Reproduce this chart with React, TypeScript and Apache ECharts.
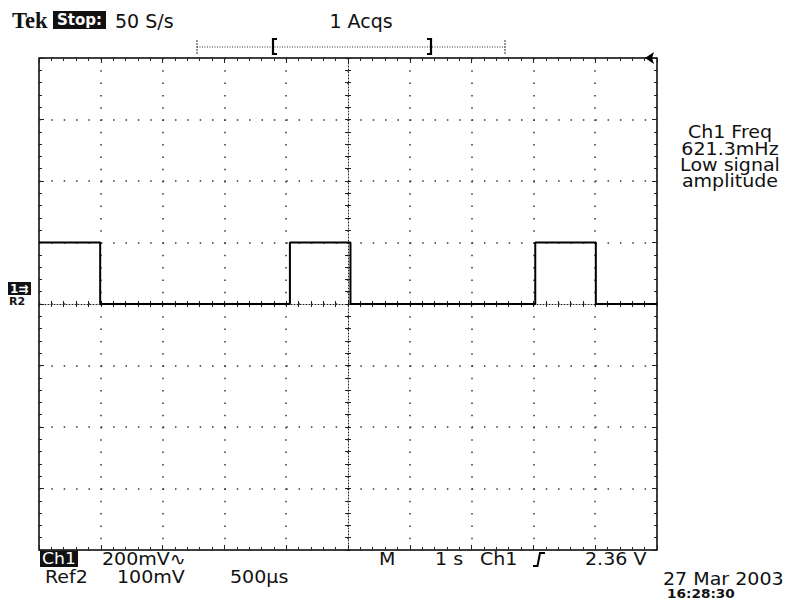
import React, { useEffect, useRef } from "react";
import * as echarts from "echarts";

// Ch1 trace: time (s, 1 s/div, centred) and level (V, 200 mV/div)
const timeS = [-5, -4.01, -4.01, -0.94, -0.94, 0.04, 0.04, 3.03, 3.03, 4.01, 4.01, 5];
const ch1V = [0.2, 0.2, 0, 0, 0.2, 0.2, 0, 0, 0.2, 0.2, 0, 0];

const xRange = [-5, 5];
const yRange = [-0.8, 0.8];
const xStep = 1;
const yStep = 0.2;

const measureLines = ["Ch1 Freq", "621.3mHz", "Low signal", "amplitude"];
const headerTexts = { brand: "Tek", state: "Stop:", rate: "50 S/s", acqs: "1 Acqs" };
const footerTexts = {
  ch: "Ch1",
  chScale: "200mV\u223F",
  ref: "Ref2",
  refScale: "100mV",
  refTime: "500\u00B5s",
  m: "M",
  timeBase: "1 s",
  trigSrc: "Ch1",
  trigLevel: "2.36 V",
  date: "27 Mar 2003",
  time: "16:28:30",
};

const FONT = '"DejaVu Sans"';
const INK = "#111";

function txt(text: string, x: number, y: number, o: any = {}) {
  return {
    type: "text",
    x,
    y,
    scaleX: o.scaleX ?? 1.12,
    z: 100,
    style: {
      text,
      fill: o.fill ?? INK,
      fontSize: o.size ?? 17,
      fontFamily: o.family ?? FONT,
      fontWeight: o.weight ?? "normal",
      align: o.align ?? "left",
      verticalAlign: "middle",
    },
  };
}

export default function App() {
  const ref = useRef<HTMLDivElement>(null);
  useEffect(() => {
    if (!ref.current) return;
    const chart = echarts.init(ref.current, undefined, { renderer: "svg" });
    const tickColor = "#222";
    const baseX = {
      type: "value",
      min: xRange[0],
      max: xRange[1],
      interval: xStep,
      axisLabel: { show: false },
      minorSplitLine: { show: false },
    };
    const baseY = {
      type: "value",
      min: yRange[0],
      max: yRange[1],
      interval: yStep,
      axisLabel: { show: false },
      minorSplitLine: { show: false },
    };
    const option: any = {
      animation: false,
      backgroundColor: "#fff",
      grid: {
        left: 39,
        right: 135,
        top: 58,
        bottom: 59,
        show: true,
        borderColor: "#000",
        borderWidth: 1.5,
        backgroundColor: "transparent",
      },
      xAxis: [
        {
          ...baseX,
          position: "bottom",
          axisLine: { show: true, onZero: true, onZeroAxisIndex: 0, lineStyle: { color: tickColor, width: 1, type: [1, 2] } },
          axisTick: { show: true, inside: true, length: 3, lineStyle: { color: tickColor } },
          minorTick: { show: true, splitNumber: 5, length: 3, lineStyle: { color: tickColor } },
          splitLine: { show: true, lineStyle: { color: "#333", width: 1.5, type: [1.5, 10.8] } },
        },
        {
          ...baseX,
          position: "bottom",
          axisLine: { show: false, onZero: true, onZeroAxisIndex: 0 },
          axisTick: { show: true, inside: false, length: 3, lineStyle: { color: tickColor } },
          minorTick: { show: true, splitNumber: 5, length: 3, lineStyle: { color: tickColor } },
          splitLine: { show: false },
        },
        {
          ...baseX,
          position: "top",
          axisLine: { show: false, onZero: false },
          axisTick: { show: true, inside: true, length: 5, lineStyle: { color: tickColor } },
          minorTick: { show: true, splitNumber: 5, length: 3, lineStyle: { color: tickColor } },
          splitLine: { show: false },
        },
        {
          ...baseX,
          position: "bottom",
          axisLine: { show: false, onZero: false },
          axisTick: { show: true, inside: true, length: 5, lineStyle: { color: tickColor } },
          minorTick: { show: true, splitNumber: 5, length: 3, lineStyle: { color: tickColor } },
          splitLine: { show: false },
        },
      ],
      yAxis: [
        {
          ...baseY,
          position: "left",
          axisLine: { show: true, onZero: true, onZeroAxisIndex: 0, lineStyle: { color: tickColor, width: 1, type: [1, 2] } },
          axisTick: { show: true, inside: true, length: 3, lineStyle: { color: tickColor } },
          minorTick: { show: true, splitNumber: 5, length: 3, lineStyle: { color: tickColor } },
          splitLine: { show: true, lineStyle: { color: "#333", width: 1.5, type: [1.5, 10.86] } },
        },
        {
          ...baseY,
          position: "left",
          axisLine: { show: false, onZero: true, onZeroAxisIndex: 0 },
          axisTick: { show: true, inside: false, length: 3, lineStyle: { color: tickColor } },
          minorTick: { show: true, splitNumber: 5, length: 3, lineStyle: { color: tickColor } },
          splitLine: { show: false },
        },
        {
          ...baseY,
          position: "left",
          axisLine: { show: false, onZero: false },
          axisTick: { show: true, inside: true, length: 5, lineStyle: { color: tickColor } },
          minorTick: { show: true, splitNumber: 5, length: 3, lineStyle: { color: tickColor } },
          splitLine: { show: false },
        },
        {
          ...baseY,
          position: "right",
          axisLine: { show: false, onZero: false },
          axisTick: { show: true, inside: true, length: 5, lineStyle: { color: tickColor } },
          minorTick: { show: true, splitNumber: 5, length: 3, lineStyle: { color: tickColor } },
          splitLine: { show: false },
        },
      ],
      series: [
        {
          type: "line",
          xAxisIndex: 0,
          yAxisIndex: 0,
          data: timeS.map((t, i) => [t, ch1V[i]]),
          symbol: "none",
          lineStyle: { color: "#000", width: 2 },
          z: 10,
        },
      ],
      graphic: [
        // header
        txt(headerTexts.brand, 12, 20.5, { family: '"Liberation Serif"', weight: "bold", size: 23, scaleX: 0.98 }),
        { type: "rect", shape: { x: 53, y: 11, width: 53, height: 18 }, style: { fill: "#111" }, z: 99 },
        txt(headerTexts.state, 79.5, 20, { fill: "#fff", weight: "bold", size: 15, align: "center", scaleX: 1 }),
        txt(headerTexts.rate, 115, 21, { size: 19, scaleX: 1 }),
        txt(headerTexts.acqs, 361, 21, { size: 19, scaleX: 1, align: "center" }),
        // record bar
        { type: "line", shape: { x1: 197, y1: 47, x2: 505, y2: 47 }, style: { stroke: "#333", lineWidth: 1, lineDash: [1, 1.5] }, z: 99 },
        { type: "line", shape: { x1: 197, y1: 40, x2: 197, y2: 54 }, style: { stroke: "#333", lineWidth: 1, lineDash: [2, 1] }, z: 99 },
        { type: "line", shape: { x1: 505, y1: 40, x2: 505, y2: 54 }, style: { stroke: "#333", lineWidth: 1, lineDash: [2, 1] }, z: 99 },
        { type: "polyline", shape: { points: [[277, 39], [273, 39], [273, 54], [277, 54]] }, style: { stroke: "#000", lineWidth: 2.2, fill: "none" }, z: 99 },
        { type: "polyline", shape: { points: [[427, 39], [431, 39], [431, 54], [427, 54]] }, style: { stroke: "#000", lineWidth: 2.2, fill: "none" }, z: 99 },
        // trigger position marker
        { type: "polygon", shape: { points: [[645, 58], [654, 52], [652, 58], [654, 64]] }, style: { fill: "#000" }, z: 99 },
        // ground marker
        { type: "rect", shape: { x: 8, y: 282, width: 23, height: 13 }, style: { fill: "#111" }, z: 99 },
        txt("1\u21C9", 10, 288.5, { fill: "#fff", weight: "bold", size: 12, scaleX: 1 }),
        txt("R2", 9, 301.5, { weight: "bold", size: 11, scaleX: 1 }),
        // measurement readout
        ...measureLines.map((s, i) => txt(s, 730, 132 + i * 16.4, { align: "center" })),
        // footer
        { type: "rect", shape: { x: 40, y: 550.5, width: 38, height: 16.5 }, style: { fill: "#111" }, z: 99 },
        txt(footerTexts.ch, 59, 558.5, { fill: "#fff", align: "center", size: 16, scaleX: 1.08 }),
        txt(footerTexts.chScale, 102, 559),
        txt(footerTexts.ref, 45, 577),
        txt(footerTexts.refScale, 117, 577),
        txt(footerTexts.refTime, 230, 577),
        txt(footerTexts.m, 379, 559),
        txt(footerTexts.timeBase, 435, 559),
        txt(footerTexts.trigSrc, 480, 559),
        { type: "polyline", shape: { points: [[533, 566], [537.5, 566], [540, 553], [545, 553]] }, style: { stroke: "#000", lineWidth: 2, fill: "none" }, z: 99 },
        txt(footerTexts.trigLevel, 585, 559),
        txt(footerTexts.date, 663, 579),
        txt(footerTexts.time, 667, 594, { weight: "bold", size: 13, scaleX: 1.05 }),
      ],
    };
    chart.setOption(option);
    return () => chart.dispose();
  }, []);
  return (
    <div
      ref={ref}
      style={{ position: "fixed", left: 0, top: 0, width: 792, height: 609, background: "#fff" }}
    />
  );
}
